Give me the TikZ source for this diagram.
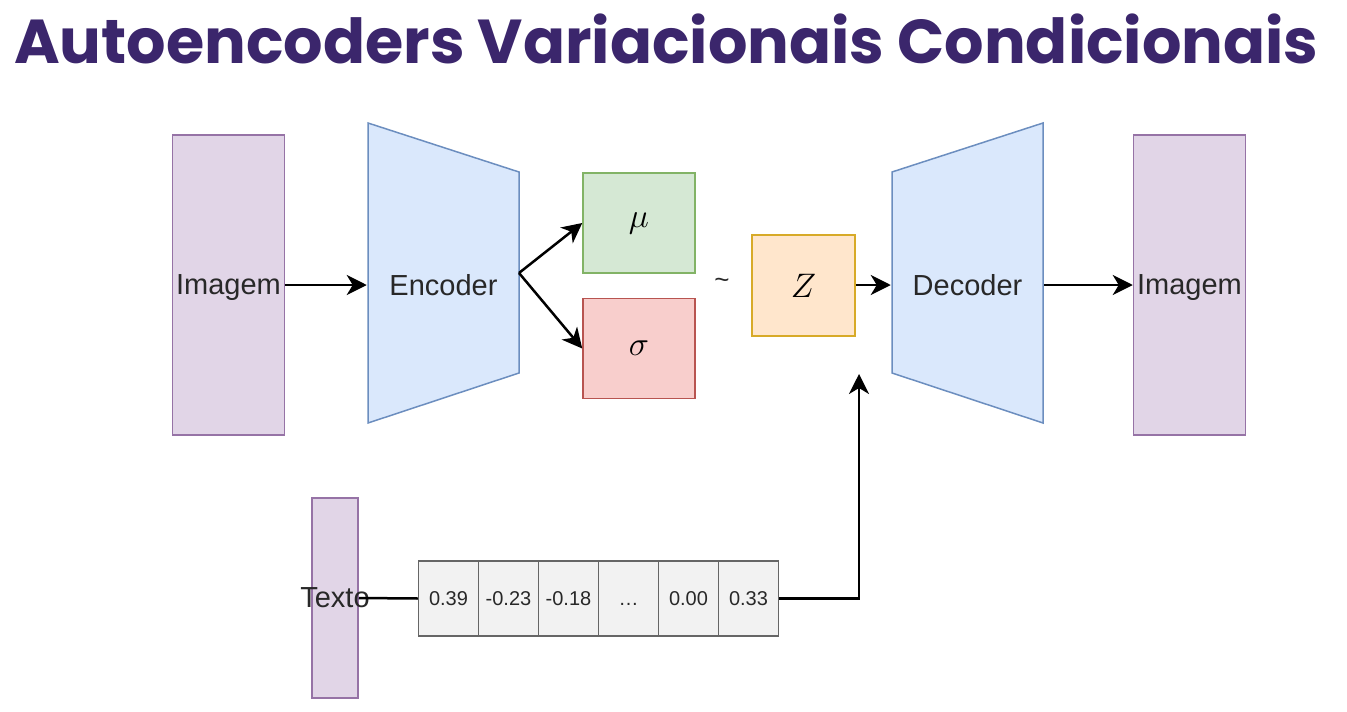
\documentclass[tikz,border=0pt]{standalone}
\usepackage{fix-cm}
\usepackage{fontspec}
\setmainfont{Liberation Sans}
\newfontfamily\titlefont{Poppins}
\usepackage{tikz}
\usetikzlibrary{arrows.meta,positioning}

\definecolor{titlepurple}{RGB}{59,38,108}
\definecolor{purplefill}{RGB}{225,213,231}
\definecolor{purpleline}{RGB}{150,115,166}
\definecolor{bluefill}{RGB}{218,232,252}
\definecolor{blueline}{RGB}{108,142,191}
\definecolor{greenfill}{RGB}{213,232,212}
\definecolor{greenline}{RGB}{130,179,102}
\definecolor{redfill}{RGB}{248,206,204}
\definecolor{redline}{RGB}{184,84,80}
\definecolor{orangefill}{RGB}{255,230,204}
\definecolor{orangeline}{RGB}{215,170,40}
\definecolor{cellfill}{RGB}{242,242,242}
\definecolor{cellline}{RGB}{102,102,102}
\definecolor{labeltext}{RGB}{40,40,40}

\begin{document}
\begin{tikzpicture}[x=1pt,y=-1pt,>={Stealth[length=20pt,width=20pt,inset=6pt]},line width=2.5pt]
\tikzstyle{imgbox} = [rectangle,draw=purpleline,fill=purplefill,line width=1.5pt,minimum width=112pt,minimum height=300pt,inner sep=0pt,text depth=0pt,text=labeltext,font=\fontsize{29}{34}\selectfont]
\tikzstyle{coder} = [draw=blueline,fill=bluefill,line width=1.5pt]
\tikzstyle{coderlabel} = [minimum width=151pt,minimum height=100pt,inner sep=0pt,text=labeltext,font=\fontsize{29}{34}\selectfont]
\tikzstyle{latent} = [rectangle,line width=1.5pt,minimum width=112pt,minimum height=100pt,inner sep=0pt,font=\fontsize{34}{40}\selectfont]
\tikzstyle{cell} = [rectangle,draw=cellline,fill=cellfill,line width=1.5pt,minimum width=60pt,minimum height=75pt,inner sep=0pt,text height=14.5pt,text depth=0pt,text=labeltext,font=\fontsize{20}{24}\selectfont]
    \useasboundingbox (0,0) rectangle (1347,712);

    % title
    \node[anchor=base west,inner sep=0pt,text=titlepurple,font=\titlefont\bfseries\fontsize{62}{72}\selectfont] (title) at (13,63) {Autoencoders Variacionais Condicionais};

    % encoder side
    \node[imgbox] (img_in) at (228.5,285) {Imagem};
    \draw[coder] (368,123) -- (519,172) -- (519,373) -- (368,423) -- cycle;
    \node[coderlabel] (enc) at (443.5,285) {Encoder};
    \coordinate (enc_out) at (519,273);

    \node[latent,draw=greenline,fill=greenfill] (mu) at (639,223) {$\mu$};
    \node[latent,draw=redline,fill=redfill] (sigma) [below=24pt of mu] {$\sigma$};
    \node[text=labeltext,font=\fontsize{26}{30}\selectfont] (tilde) at (722,283) {\textasciitilde};
    \node[latent,draw=orangeline,fill=orangefill,minimum width=103pt,minimum height=101pt] (z) at (803.5,285.5) {$Z$};

    % decoder side
    \draw[coder] (892,172) -- (1043,123) -- (1043,423) -- (892,373) -- cycle;
    \node[coderlabel] (dec) at (967.5,285) {Decoder};
    \node[imgbox] (img_out) at (1189.5,285) {Imagem};

    % text condition
    \node[imgbox,minimum width=46pt,minimum height=200pt,label={[text=labeltext,font=\fontsize{29}{34}\selectfont]center:Texto}] (txt) at (335,598) {};
    \foreach \v [count=\i] in {0.39,-0.23,-0.18,\ldots,0.00,0.33}
        \node[cell] (c\i) at ({388.5+60*\i},598.5) {\v};
    \coordinate (cond) at (859,374);

    \draw[->] (img_in.east) -- (enc.west);
    \draw[->] (enc_out) -- (mu.west);
    \draw[->] (enc_out) -- (sigma.west);
    \draw[->] (z.east |- dec.west) -- (dec.west);
    \draw[->] (dec.east) -- (img_out.west);
    \draw (txt.east) -- (c1.west);
    \draw[->] (c6.east) -| (cond);
\end{tikzpicture}
\end{document}
